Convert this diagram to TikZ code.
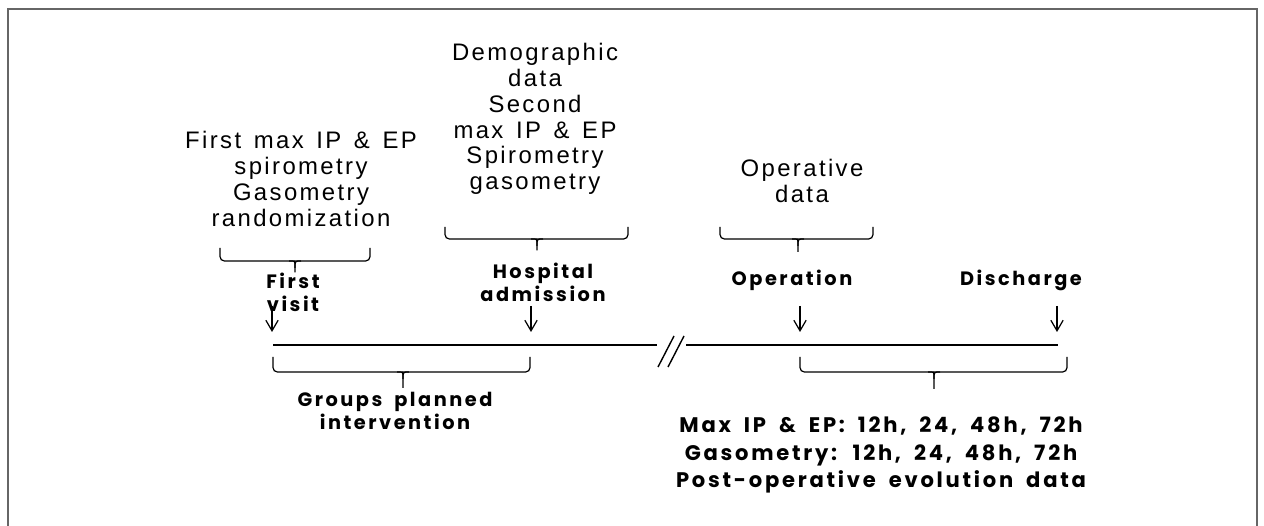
\documentclass[tikz,border=0pt]{standalone}
\usepackage{fontspec}
\setmainfont{Liberation Sans}
\newfontfamily\infofont[LetterSpace=10,WordSpace=1.4]{Liberation Sans}
\newfontfamily\eventfont[LetterSpace=13,WordSpace=1.8]{Poppins}
\usetikzlibrary{arrows.meta}

% x1, x2, xmid, ytop, ybottom, ytip
\newcommand{\tlbrace}[6]{%
  \draw[curly] (#1,#4) |- (#3,#5) -| (#2,#4);
  \draw[curly] ({#3-6},#5) .. controls (#3,#5) .. ({#3},{#5+7}) -- (#3,#6);
  \draw[curly] ({#3+6},#5) .. controls (#3,#5) .. ({#3},{#5+7});
}

\tikzset{
  info/.style={align=center, inner sep=0pt, font=\infofont\fontsize{13.6}{14.7}\selectfont},
  event/.style={align=center, inner sep=0pt, font=\eventfont\bfseries\fontsize{11}{13.2}\selectfont},
  result/.style={align=center, inner sep=0pt, font=\eventfont\bfseries\fontsize{12}{15.5}\selectfont},
  curly/.style={draw, line width=0.7pt, rounded corners=2.5pt},
  timeline/.style={line width=0.8pt},
  tick/.style={-{Straight Barb[length=6pt,width=7pt]}, line width=0.7pt}
}

\begin{document}
\begin{tikzpicture}[x=0.02cm, y=-0.02cm]
  \useasboundingbox (0,0) rectangle (1264,526);
  \draw[gray!80!black, line width=0.8pt] (8,9) rectangle (1257,540);

  % what is collected
  \node[info] (visitinfo) at (301,179) {First max IP \& EP\\spirometry\\Gasometry\\randomization};
  \node[info] (admitinfo) at (535,119) {Demographic\\data\\Second\\max IP \& EP\\Spirometry\\gasometry};
  \node[info] (opinfo) at (802,181) {Operative\\data};

  \tlbrace{220}{370}{295}{248}{261}{270}
  \tlbrace{445}{628}{537}{227}{239}{250}
  \tlbrace{720}{873}{798}{227}{239}{252}

  % events
  \node[event] (visit) at (293,292) {First\\visit};
  \node[event] (admit) at (543,282) {Hospital\\admission};
  \node[event] (op) at (792,280) {Operation};
  \node[event] (dis) at (1021,280) {Discharge};

  \coordinate (visitA) at (272,306);
  \coordinate (visitB) at (272,332);
  \coordinate (admitA) at (531,306);
  \coordinate (admitB) at (531,332);
  \coordinate (opA) at (800,306);
  \coordinate (opB) at (800,332);
  \coordinate (disA) at (1057,306);
  \coordinate (disB) at (1057,332);
  \draw[tick] (visitA) -- (visitB);
  \draw[tick] (admitA) -- (admitB);
  \draw[tick] (opA) -- (opB);
  \draw[tick] (disA) -- (disB);

  % time line with a break
  \coordinate (t0) at (273,345);
  \coordinate (cutL) at (657,345);
  \coordinate (cutR) at (686,345);
  \coordinate (t1) at (1058,345);
  \draw[timeline] (t0) -- (cutL);
  \draw[timeline] (cutR) -- (t1);
  \draw[timeline] (658,367) -- (674,336);
  \draw[timeline] (668,367) -- (684,336);

  \tlbrace{273}{530}{403}{357}{372}{388}
  \tlbrace{800}{1067}{934}{357}{372}{389}

  \node[event] (groups) at (395,411) {Groups planned\\intervention};
  \node[result] (post) at (881,455) {Max IP \& EP: 12h, 24, 48h, 72h\\Gasometry: 12h, 24, 48h, 72h\\Post-operative evolution data};
\end{tikzpicture}
\end{document}
